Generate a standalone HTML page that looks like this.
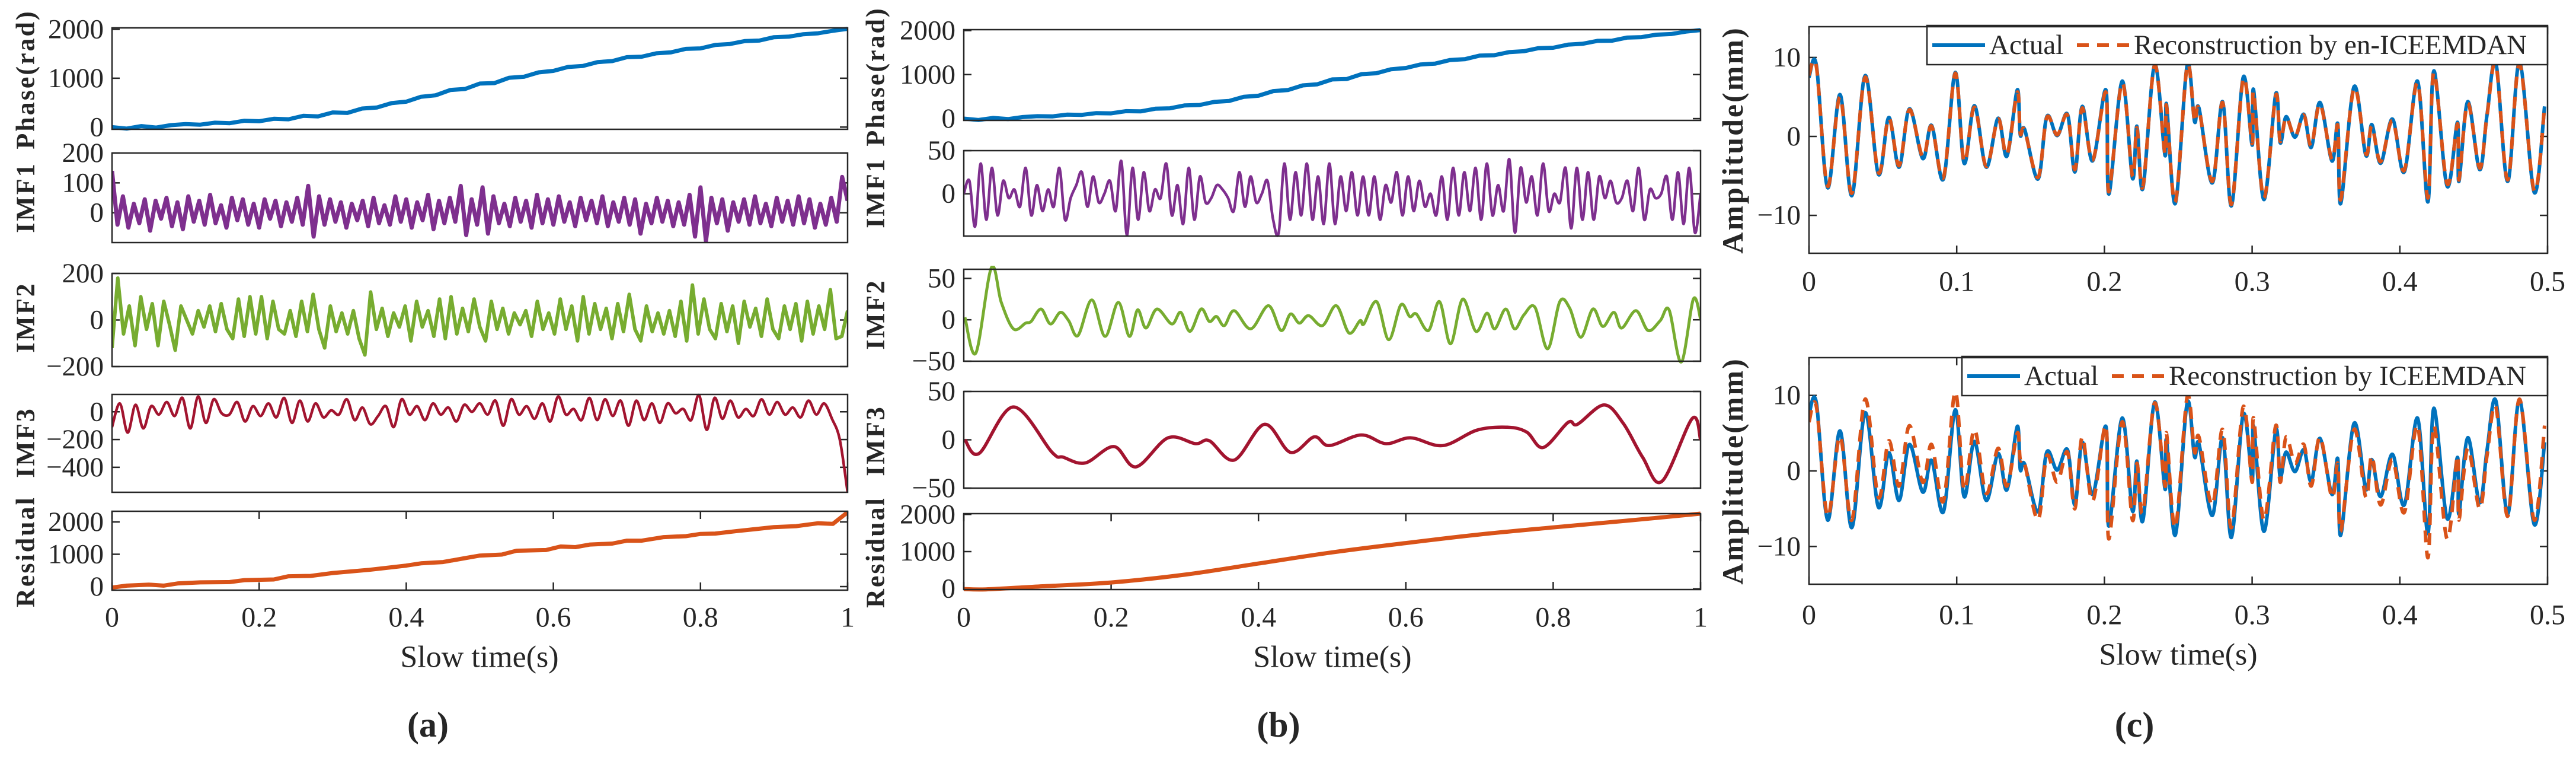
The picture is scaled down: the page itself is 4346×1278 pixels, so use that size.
<!DOCTYPE html>
<html><head><meta charset="utf-8">
<style>
html,body{margin:0;padding:0;background:#fff;}
svg{display:block;font-family:"Liberation Serif",serif;}
</style></head>
<body>
<svg id="fig" width="4346" height="1278" viewBox="0 0 4346 1278" xmlns="http://www.w3.org/2000/svg"></svg>
<script>
// ---------- data ----------
const phaseA = [0,-30,20,-10,40,60,50,90,80,130,120,170,160,230,220,300,290,380,400,490,520,620,650,760,780,890,900,1010,1030,1120,1150,1230,1250,1330,1350,1430,1440,1510,1530,1600,1610,1680,1700,1760,1770,1840,1850,1900,1920,1970,2010];
const phaseB = [0,-30,15,-10,35,55,50,90,85,125,120,170,165,225,235,300,310,380,400,495,520,625,650,755,780,890,900,1010,1030,1120,1150,1230,1250,1330,1350,1430,1440,1510,1530,1600,1610,1680,1700,1765,1770,1840,1850,1905,1920,1975,2010];
const imf1A = [140,-40,55,-50,30,-35,45,-60,40,-20,50,-45,35,-55,55,-30,40,-40,60,-35,25,-50,50,-25,45,-40,30,-50,45,-20,40,-45,35,-30,50,-40,90,-80,55,-40,45,-30,35,-50,30,-25,40,-45,50,-35,25,-40,55,-30,45,-50,35,-25,60,-55,40,-35,50,-30,90,-75,45,-40,85,-70,55,-35,30,-45,50,-30,40,-50,60,-35,45,-40,55,-30,35,-45,50,-25,40,-35,55,-45,35,-30,50,-40,45,-70,30,-35,50,-30,40,-45,35,-40,60,-80,85,-95,50,-35,45,-60,35,-30,45,-40,55,-35,30,-45,50,-30,40,-40,55,-35,45,-50,30,-40,50,-30,120,40];
const imf2A = [-120,180,-60,60,-110,100,-40,70,-110,80,-20,-130,60,0,-60,40,-30,60,-50,70,-40,-80,90,-70,100,-60,100,-80,80,-40,-60,40,-70,80,-50,110,-40,-120,60,-50,30,-60,40,-80,-150,120,-40,50,-70,30,-30,60,-90,80,-30,40,-70,90,-80,100,-60,50,-50,90,-30,-90,80,-40,50,-60,30,-20,40,-70,80,-40,30,-60,90,-40,60,-90,100,-60,70,-40,50,-80,70,-50,110,-40,-90,60,-50,30,-60,40,-70,80,-90,150,-60,90,-40,-80,70,-50,60,-100,80,-30,50,-70,90,-40,-80,60,-40,70,-90,80,-60,60,-40,130,-80,-70,40];
const imf3A = [-110,60,-150,50,-120,40,-20,70,-30,100,-120,110,-80,90,-10,-20,70,-70,40,-30,60,-40,100,-80,80,-70,60,-40,10,-20,90,-60,30,-90,-30,40,-110,90,-20,40,-60,60,-20,30,-70,50,0,60,-20,80,-100,90,-20,40,-50,60,-70,110,-20,20,-60,100,-60,90,-30,80,-100,80,-60,60,-80,60,-10,20,-60,120,-130,100,-50,80,-40,20,-30,90,-20,70,-20,30,-40,80,-20,60,-50,-200,-580];
const resA_t = [0,0.02,0.05,0.07,0.09,0.12,0.16,0.18,0.22,0.24,0.27,0.3,0.35,0.4,0.42,0.45,0.48,0.5,0.53,0.55,0.59,0.61,0.63,0.65,0.68,0.7,0.72,0.75,0.78,0.8,0.82,0.85,0.88,0.9,0.93,0.96,0.98,1.0];
const resA = [-30,30,60,30,100,130,140,200,220,320,330,420,520,650,720,760,880,960,990,1110,1130,1240,1220,1300,1330,1420,1420,1530,1560,1630,1640,1720,1790,1840,1870,1960,1940,2300];
const imf1B = [0,15,-38,35,-30,30,-25,15,-5,5,-15,30,-25,10,-20,5,-15,30,-30,-5,10,25,-15,20,-10,0,15,-20,38,-48,30,-30,25,-20,5,-5,35,-25,10,-35,30,-30,20,-10,-5,10,5,-5,-20,25,-15,20,-10,0,15,-30,-45,35,-30,25,-25,35,-30,20,-35,35,-35,20,-20,25,-25,20,-25,20,-30,10,-10,25,-25,20,-20,15,-15,0,-25,20,-30,30,-25,25,-20,30,-30,35,-25,10,-20,40,-45,30,-10,20,-25,35,-20,0,-10,30,-40,30,-30,25,-30,20,-5,15,-10,-5,15,-20,30,-30,5,-5,0,20,-30,25,-35,30,-45,0];
const imf2B_x = [202,222,250,268,290,312,322,340,357,375,390,407,432,456,480,500,515,530,550,577,593,610,630,645,658,672,690,720,752,775,792,808,825,850,875,898,918,925,948,970,992,1008,1020,1042,1062,1082,1104,1128,1148,1162,1182,1198,1215,1235,1258,1280,1298,1318,1340,1358,1378,1392,1418,1440,1462,1478,1500,1522,1535];
const imf2B = [3,-40,63,21,-11,-4,-2,13,-5,9,-1,-19,24,-20,21,-20,12,-10,13,-5,9,-14,13,-2,4,-7,11,-11,17,-13,7,-4,5,-7,17,-16,-1,-5,22,-24,18,4,7,-13,22,-29,25,-14,8,-11,13,-11,6,15,-35,22,14,-21,13,-8,9,-10,11,-13,-1,12,-51,25,1];
const imf3B_x = [202,228,290,360,380,420,472,512,570,620,645,690,745,792,835,862,920,965,1010,1068,1130,1185,1220,1250,1295,1312,1360,1395,1430,1465,1520,1535];
const imf3B = [0,-14,34,-13,-18,-24,-7,-28,2,-4,-1,-21,16,-13,3,-6,5,-4,2,-6,10,13,8,-8,18,16,36,17,-18,-43,22,0];
const resB_t = [0,0.03,0.1,0.2,0.3,0.4,0.5,0.6,0.7,0.8,0.9,1.0];
const resB = [-5,-15,60,170,380,680,980,1230,1460,1650,1830,2020];
const ampT = [0,0.005,0.0126,0.021,0.029,0.038,0.047,0.054,0.061,0.068,0.077,0.083,0.091,0.099,0.105,0.112,0.120,0.128,0.134,0.141,0.143,0.146,0.155,0.161,0.168,0.175,0.180,0.185,0.192,0.201,0.203,0.212,0.219,0.222,0.226,0.234,0.241,0.242,0.248,0.256,0.261,0.264,0.273,0.280,0.286,0.294,0.300,0.301,0.308,0.316,0.319,0.323,0.329,0.335,0.340,0.346,0.354,0.358,0.360,0.369,0.377,0.381,0.387,0.395,0.403,0.412,0.419,0.423,0.432,0.439,0.440,0.446,0.454,0.459,0.465,0.473,0.481,0.491,0.498];
const actual = [7.5,9,-6.5,5.3,-7.5,7.7,-4.8,2.4,-3.9,3.5,-2.8,1.4,-5.4,8.1,-3.4,3.9,-3.9,2.3,-2.5,5.9,0.2,0.9,-5.4,2.5,0.1,2.8,-4.5,3.8,-3.1,5.9,-7.3,7.0,-5.3,1.3,-6.6,9.1,-2.4,4.1,-8.5,9.0,1.9,3.6,-5.9,4.4,-8.8,7.5,-1.1,5.9,-8.0,5.4,-0.8,2.5,-0.1,2.8,-1.4,4.3,-3.1,1.6,-8.5,6.3,-2.4,1.5,-3.4,2.2,-4.5,7.0,-8.3,8.3,-6.3,1.8,-5.7,4.4,-4.2,2.7,9.3,-5.7,9.4,-7.1,3.8];
const reconEn = [7.8,8.8,-6.3,5.0,-7.2,7.5,-4.6,2.3,-3.7,3.4,-2.6,1.3,-5.2,8.0,-3.2,3.7,-3.8,2.2,-2.3,5.6,0.4,0.8,-5.2,2.4,0.2,2.7,-4.2,3.6,-3.0,5.6,-7.0,6.8,-5.0,1.1,-6.4,9.0,-2.2,3.9,-8.3,8.9,2.0,3.5,-5.7,4.3,-8.6,7.3,-0.9,5.6,-7.8,5.2,-0.6,2.4,0,2.7,-1.2,4.1,-2.9,1.4,-8.0,6.1,-2.2,1.3,-3.2,2.0,-4.3,6.8,-7.8,8.1,-6.0,1.6,-5.5,4.2,-4.0,2.6,9.1,-5.5,9.2,-6.9,3.7];
const reconIc = [6.5,8.5,-6.0,4.6,-6.5,9.5,-3.5,4.0,-2.0,6.0,-1.5,3.5,-4.0,10.5,-2.5,5.5,-3.0,3.0,-2.0,5.0,1.5,1.0,-6.5,2.0,-1.5,2.5,-5.0,4.5,-4.0,6.0,-9.0,6.5,-6.5,1.0,-5.5,9.0,-2.0,5.0,-7.5,9.8,2.5,4.5,-4.5,5.5,-7.5,8.5,-1.5,7.0,-6.5,6.0,-1.5,4.5,1.0,3.5,-2.0,4.5,-3.5,1.0,-8.0,5.5,-3.5,2.0,-4.5,1.5,-5.5,6.0,-11.5,6.0,-9.0,2.0,-6.5,3.0,-5.0,2.0,8.5,-6.0,9.5,-6.5,6.0];
const tickA = ["0","0.2","0.4","0.6","0.8","1"];
const tickAv = [0,0.2,0.4,0.6,0.8,1];
const tickC = ["0","0.1","0.2","0.3","0.4","0.5"];
const tickCv = [0,0.1,0.2,0.3,0.4,0.5];

// ---------- drawing ----------
const NS='http://www.w3.org/2000/svg';
const svg=document.getElementById('fig');
let clipN=0;
function mk(tag,attrs,parent){const e=document.createElementNS(NS,tag);for(const k in attrs)e.setAttribute(k,attrs[k]);(parent||svg).appendChild(e);return e;}
function txt(s,x,y,size,opts,parent){const e=mk('text',Object.assign({x:x,y:y,'font-size':size,fill:'#262626','text-anchor':'middle','dominant-baseline':'central'},opts||{}),parent);e.textContent=s;return e;}

function makeAxes(name,p){
  const g=mk('g',{});
  
  
  p.sx=v=>p.x0+(v-p.xmin)/(p.xmax-p.xmin)*(p.x1-p.x0);
  p.sy=v=>p.y1-(v-p.ymin)/(p.ymax-p.ymin)*(p.y1-p.y0);
  p.g=g;
  const id='clip'+(clipN++);
  const cp=mk('clipPath',{id:id},g);
  mk('rect',{x:p.x0,y:p.y0-6,width:p.x1-p.x0,height:p.y1-p.y0+12},cp);
  p.clip='url(#'+id+')';
  (p.yt||[]).forEach((v,i)=>{
    const y=p.sy(v);
    const t1=mk('line',{x1:p.x0,x2:p.x0+13,y1:y,y2:y,stroke:'#262626','stroke-width':2.5},g);
    
    
    mk('line',{x1:p.x1,x2:p.x1-13,y1:y,y2:y,stroke:'#262626','stroke-width':2.5},g);
    const l=txt(p.ytl[i],p.x0-14,y,47,{'text-anchor':'end'},g);
    
    
  });
  if(p.xt){
    p.xt.forEach((v,i)=>{
      const x=p.sx(v);
      const t=mk('line',{x1:x,x2:x,y1:p.y1,y2:p.y1-13,stroke:'#262626','stroke-width':2.5},g);
      
      
      mk('line',{x1:x,x2:x,y1:p.y0,y2:p.y0+13,stroke:'#262626','stroke-width':2.5},g);
      const l=txt(p.xtl[i],x,p.xly,48,{},g);
      
      
    });
  }
  if(p.ylabel){
    const l=txt(p.ylabel,0,0,p.ylfs||44,{'font-weight':'bold','letter-spacing':p.yls||3,transform:'translate('+p.ylx+','+p.yly+') rotate(-90)'},g);
    
    
  }
  return p;
}
function frame(p){
  const r=mk('rect',{x:p.x0,y:p.y0,width:p.x1-p.x0,height:p.y1-p.y0,fill:'none',stroke:'#262626','stroke-width':2.5},p.g);
  
  
}
function smoothPath(pts){
  let d='M'+pts[0][0].toFixed(1)+','+pts[0][1].toFixed(1);
  for(let i=0;i<pts.length-1;i++){
    const p0=pts[Math.max(0,i-1)],p1=pts[i],p2=pts[i+1],p3=pts[Math.min(pts.length-1,i+2)];
    const c1x=p1[0]+(p2[0]-p0[0])/6,c1y=p1[1]+(p2[1]-p0[1])/6;
    const c2x=p2[0]-(p3[0]-p1[0])/6,c2y=p2[1]-(p3[1]-p1[1])/6;
    d+='C'+c1x.toFixed(1)+','+c1y.toFixed(1)+' '+c2x.toFixed(1)+','+c2y.toFixed(1)+' '+p2[0].toFixed(1)+','+p2[1].toFixed(1);
  }
  return d;
}
function series(name,p,ts,vs,color,w,smooth,dash){
  const pts=vs.map((v,i)=>[p.sx(ts[i]),p.sy(v)]);
  const d=smooth?smoothPath(pts):'M'+pts.map(q=>q[0].toFixed(1)+','+q[1].toFixed(1)).join('L');
  const a={d:d,fill:'none',stroke:color,'stroke-width':w,'stroke-linejoin':'round','clip-path':p.clip};
  if(dash)a['stroke-dasharray']=dash;
  const e=mk('path',a,p.g);
  
  
  return e;
}
const evenT=(arr,xmax)=>arr.map((_,i)=>i/(arr.length-1)*xmax);
const pxT=arr=>arr.map(x=>(x-200)/1335);

const BLUE='#0072BD',PURP='#7E2F8E',GRN='#77AC30',RED='#A2142F',ORG='#D95319';

// Panel (a)
const ax0=189,ax1=1430;
let p;
p=makeAxes('phase-plot-a',{x0:ax0,x1:ax1,y0:47,y1:218,xmin:0,xmax:1,ymin:-45,ymax:2030,yt:[0,1000,2000],ytl:['0','1000','2000'],ylabel:'Phase(rad)',ylx:43,yly:134});
series('phase-line-a',p,evenT(phaseA,1),phaseA,BLUE,7,false);frame(p);
p=makeAxes('imf1-plot-a',{x0:ax0,x1:ax1,y0:258,y1:409,xmin:0,xmax:1,ymin:-100,ymax:200,yt:[0,100,200],ytl:['0','100','200'],ylabel:'IMF1',ylx:43,yly:333});
series('imf1-line-a',p,evenT(imf1A,1),imf1A,PURP,7,false);frame(p);
p=makeAxes('imf2-plot-a',{x0:ax0,x1:ax1,y0:461,y1:618,xmin:0,xmax:1,ymin:-200,ymax:200,yt:[-200,0,200],ytl:['\u2212200','0','200'],ylabel:'IMF2',ylx:43,yly:535});
series('imf2-line-a',p,evenT(imf2A,1),imf2A,GRN,6,false);frame(p);
p=makeAxes('imf3-plot-a',{x0:ax0,x1:ax1,y0:665,y1:830,xmin:0,xmax:1,ymin:-580,ymax:125,yt:[-400,-200,0],ytl:['\u2212400','\u2212200','0'],ylabel:'IMF3',ylx:43,yly:746});
series('imf3-line-a',p,evenT(imf3A,1),imf3A,RED,4.5,true);frame(p);
p=makeAxes('residual-plot-a',{x0:ax0,x1:ax1,y0:862,y1:995,xmin:0,xmax:1,ymin:-110,ymax:2330,yt:[0,1000,2000],ytl:['0','1000','2000'],ylabel:'Residual',ylx:43,yly:930,xt:tickAv,xtl:tickA,xly:1041});
series('residual-line-a',p,resA_t,resA,ORG,7,false);frame(p);
let e=txt('Slow time(s)',809,1108,52);


e=txt('(a)',722,1222,60,{'font-weight':'bold'});



// Panel (b)
const bx0=1626,bx1=2869;
p=makeAxes('phase-plot-b',{x0:bx0,x1:bx1,y0:50,y1:203,xmin:0,xmax:1,ymin:-40,ymax:2020,yt:[0,1000,2000],ytl:['0','1000','2000'],ylabel:'Phase(rad)',ylx:1477,yly:129});
series('phase-line-b',p,evenT(phaseB,1),phaseB,BLUE,7,false);frame(p);
p=makeAxes('imf1-plot-b',{x0:bx0,x1:bx1,y0:254,y1:398,xmin:0,xmax:1,ymin:-49,ymax:50,yt:[0,50],ytl:['0','50'],ylabel:'IMF1',ylx:1477,yly:325});
series('imf1-line-b',p,evenT(imf1B,1),imf1B,PURP,4.5,true);frame(p);
p=makeAxes('imf2-plot-b',{x0:bx0,x1:bx1,y0:454,y1:609,xmin:0,xmax:1,ymin:-50,ymax:61,yt:[-50,0,50],ytl:['\u221250','0','50'],ylabel:'IMF2',ylx:1477,yly:530});
series('imf2-line-b',p,pxT(imf2B_x),imf2B,GRN,5,true);frame(p);
p=makeAxes('imf3-plot-b',{x0:bx0,x1:bx1,y0:660,y1:823,xmin:0,xmax:1,ymin:-50,ymax:50,yt:[-50,0,50],ytl:['\u221250','0','50'],ylabel:'IMF3',ylx:1477,yly:743});
series('imf3-line-b',p,pxT(imf3B_x),imf3B,RED,5.5,true);frame(p);
p=makeAxes('residual-plot-b',{x0:bx0,x1:bx1,y0:866,y1:994,xmin:0,xmax:1,ymin:-20,ymax:2020,yt:[0,1000,2000],ytl:['0','1000','2000'],ylabel:'Residual',ylx:1477,yly:931,xt:tickAv,xtl:tickA,xly:1041});
series('residual-line-b',p,resB_t,resB,ORG,7,true);frame(p);
e=txt('Slow time(s)',2248,1108,52);


e=txt('(b)',2157,1222,60,{'font-weight':'bold'});



// Panel (c)
const cx0=3052,cx1=4298;
function legend(p,lx0,ly0,ly1,label){
  const g=mk('g',{},p.g);
  
  
  mk('rect',{x:lx0,y:ly0,width:cx1-lx0,height:ly1-ly0,fill:'#fff',stroke:'#262626','stroke-width':2.5},g);
  const yc=(ly0+ly1)/2;
  const s1=mk('line',{x1:lx0+9,x2:lx0+98,y1:yc,y2:yc,stroke:BLUE,'stroke-width':6},g);
  
  
  const t1=txt('Actual',lx0+105,yc,47,{'text-anchor':'start'},g);
  
  
  const s2=mk('line',{x1:lx0+253,x2:lx0+341,y1:yc,y2:yc,stroke:ORG,'stroke-width':6,'stroke-dasharray':'20 14'},g);
  
  
  const t2=txt(label,lx0+349,yc,47,{'text-anchor':'start'},g);
  
  
}
p=makeAxes('amplitude-plot-en-iceemdan',{x0:cx0,x1:cx1,y0:45,y1:427,xmin:0,xmax:0.5,ymin:-14.8,ymax:13.9,yt:[-10,0,10],ytl:['\u221210','0','10'],ylabel:'Amplitude(mm)',ylfs:50,yls:3,ylx:2923,yly:236,xt:tickCv,xtl:tickC,xly:475});
series('actual-line-top',p,ampT,actual,BLUE,6,true);
series('reconstruction-en-iceemdan-line',p,ampT,reconEn,ORG,6,true,'20 14');
legend(p,3251,43,109,'Reconstruction by en-ICEEMDAN');frame(p);
p=makeAxes('amplitude-plot-iceemdan',{x0:cx0,x1:cx1,y0:603,y1:985,xmin:0,xmax:0.5,ymin:-15,ymax:15,yt:[-10,0,10],ytl:['\u221210','0','10'],ylabel:'Amplitude(mm)',ylfs:50,yls:3,ylx:2923,yly:794,xt:tickCv,xtl:tickC,xly:1037});
series('actual-line-bottom',p,ampT,actual,BLUE,6,true);
series('reconstruction-iceemdan-line',p,ampT,reconIc,ORG,6,true,'20 14');
legend(p,3310,601,667,'Reconstruction by ICEEMDAN');frame(p);
e=txt('Slow time(s)',3675,1104,52);


e=txt('(c)',3601,1222,60,{'font-weight':'bold'});


</script>
</body></html>
